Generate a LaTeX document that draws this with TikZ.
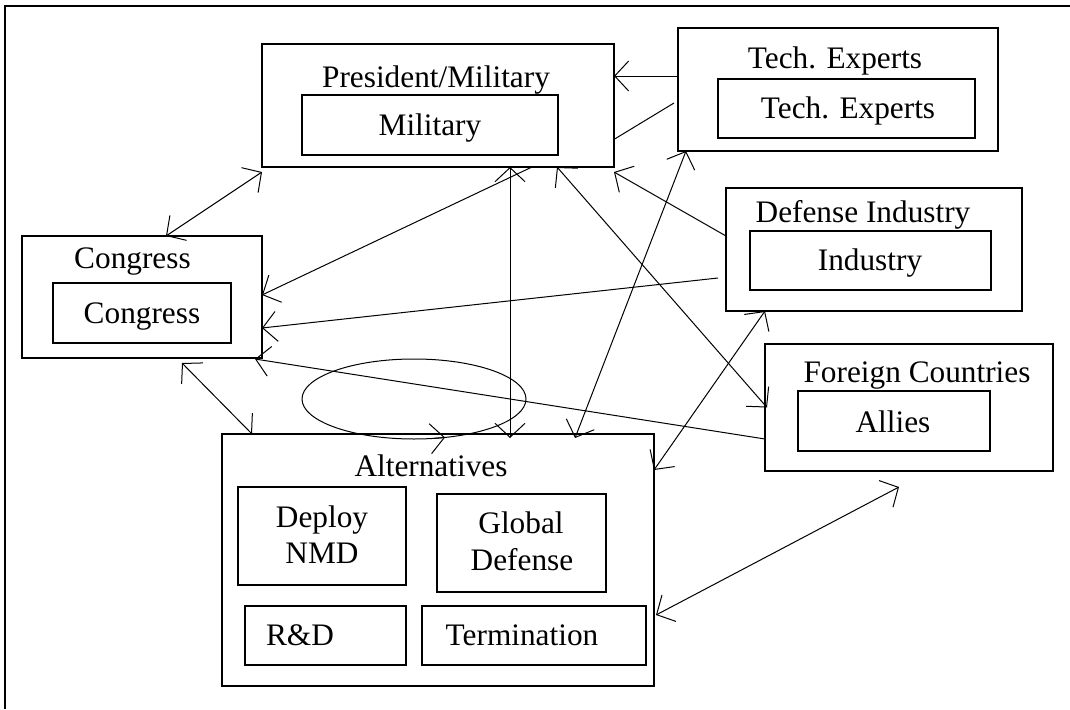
\documentclass[tikz,border=0pt]{standalone}
\usepackage{fontspec}
\setmainfont{Liberation Serif}
\usetikzlibrary{arrows.meta,shapes.geometric}
\begin{document}
\begin{tikzpicture}[x=1pt,y=-1pt,
  box/.style={draw,line width=1.5pt,rectangle,inner sep=0pt,outer sep=0pt},
  lbl/.style={anchor=base,inner sep=0pt,font=\fontsize{31.3pt}{37pt}\selectfont},
  link/.style={line width=1pt},
  tipend/.style={line width=1pt,-{Straight Barb[length=14pt,width=30pt]}},
  both/.style={line width=1pt,{Straight Barb[length=14pt,width=30pt]}-{Straight Barb[length=14pt,width=30pt]}},
  frameline/.style={line width=2pt}]
\fill[white] (0,0) rectangle (1070,709);
\useasboundingbox (0,0) rectangle (1070,709);
% frame (only top and left edges visible)
\coordinate (fTL) at (5,6.5);
\coordinate (fTR) at (1070,6.5);
\coordinate (fBL) at (5,709);
\draw[frameline] (fTR) -- (fTL) -- (fBL);

% boxes
\node[box,minimum width=352pt,minimum height=123pt] (pres) at (438,105.5) {};
\node[box,minimum width=256pt,minimum height=60pt] (mil) at (430,125) {};
\node[box,minimum width=320pt,minimum height=123pt] (tech) at (838,89.5) {};
\node[box,minimum width=257pt,minimum height=59pt] (techin) at (846.5,108.5) {};
\node[box,minimum width=296pt,minimum height=123pt] (def) at (874,249.5) {};
\node[box,minimum width=241pt,minimum height=59pt] (defin) at (870.5,260.5) {};
\node[box,minimum width=288pt,minimum height=127pt] (for) at (909,407.5) {};
\node[box,minimum width=192pt,minimum height=60pt] (allies) at (894,421) {};
\node[box,minimum width=240pt,minimum height=122pt] (cong) at (142,297) {};
\node[box,minimum width=178pt,minimum height=60pt] (congin) at (142,313) {};
\node[box,minimum width=432pt,minimum height=252pt] (alt) at (438,560) {};
\node[box,minimum width=168pt,minimum height=98pt] (nmd) at (322,536) {};
\node[box,minimum width=169pt,minimum height=98pt] (glob) at (521.5,543) {};
\node[box,minimum width=161pt,minimum height=59pt] (rd) at (325.5,635.5) {};
\node[box,minimum width=224pt,minimum height=59pt] (term) at (534,635.5) {};
\node[draw,ellipse,line width=1pt,minimum width=224pt,minimum height=80pt,inner sep=0pt,outer sep=0pt] (loop) at (414,399) {};

% labels
\node[lbl] (presT) at (436,88) {President/Military};
\node[lbl] (milT) at (430,135) {Military};
\node[lbl] (techT) at (835,68) {Tech. Experts};
\node[lbl] (techinT) at (848,118) {Tech. Experts};
\node[lbl] (defT) at (863,222.5) {Defense Industry};
\node[lbl] (definT) at (870,270.5) {Industry};
\node[lbl] (forT) at (917,382.5) {Foreign Countries};
\node[lbl] (alliesT) at (893,432) {Allies};
\node[lbl] (congT) at (132.5,268) {Congress};
\node[lbl] (conginT) at (142,323) {Congress};
\node[lbl] (altT) at (431,476) {Alternatives};
\node[lbl] (nmdA) at (322,527) {Deploy};
\node[lbl] (nmdB) at (322,563) {NMD};
\node[lbl] (globA) at (521,533) {Global};
\node[lbl] (globB) at (522,570.5) {Defense};
\node[lbl] (rdT) at (300,645.5) {R\&D};
\node[lbl] (termT) at (522,645.5) {Termination};

% connectors
\draw[both] ([xshift=24pt]cong.north) -- ([yshift=-5pt]pres.south west);
\draw[tipend] ([xshift=94pt]pres.south) -- ([yshift=2pt]cong.east);
\draw[tipend] ([xshift=-8pt,yshift=-28.5pt]def.west) -- ([yshift=-31pt]cong.east);
\draw[tipend] ([yshift=13.5pt]tech.west) -- ([yshift=29.5pt]pres.east);
\draw[link] ([xshift=-4pt,yshift=-13.5pt]tech.west) -- ([xshift=-1pt,yshift=-34.5pt]pres.east);
\draw[tipend] ([yshift=13.5pt]def.west) -- ([yshift=-5pt]pres.south east);
\draw[both] ([xshift=119pt]pres.south) -- ([xshift=2pt]for.west);
\draw[both] ([xshift=137pt,yshift=-4pt]alt.north) -- ([xshift=-152pt]tech.south);
\draw[both] ([yshift=90pt]alt.east) -- ([xshift=-109pt]def.south);
\draw[tipend] ([yshift=-31.5pt]for.west) -- ([xshift=-7pt,yshift=-1pt]cong.south east);
\draw[both] ([xshift=40pt,yshift=-5pt]cong.south) -- ([xshift=30pt]alt.north west);
\draw[both] ([xshift=2pt,yshift=-55pt]alt.east) -- ([xshift=-10pt,yshift=-16pt]for.south);
\draw[both] ([xshift=72pt]pres.south) -- ([xshift=72pt,yshift=-4pt]alt.north);
% arrow tip on the loop
\draw[tipend] ([xshift=20pt,yshift=-39.36pt]loop.center) -- ([xshift=31pt,yshift=-38.44pt]loop.center);
\end{tikzpicture}
\end{document}
